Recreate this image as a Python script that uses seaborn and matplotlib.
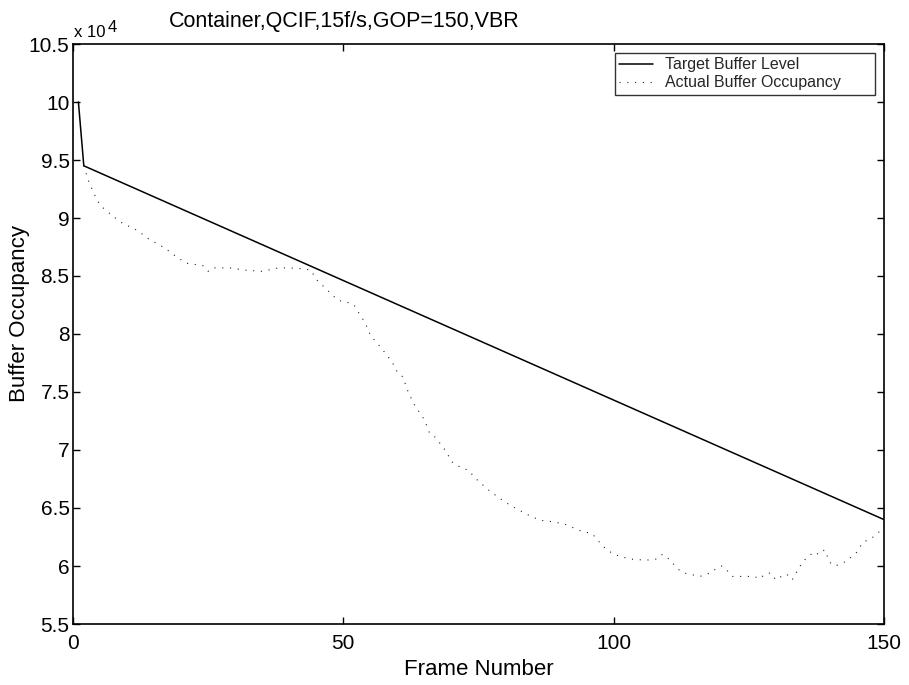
import matplotlib
matplotlib.use("Agg")
import matplotlib.pyplot as plt
import seaborn as sns
import pandas as pd
from matplotlib.ticker import FuncFormatter, MultipleLocator

# Target buffer level (bits) at key frames
target_frames = [1, 2, 150]
target_level = [100000, 94500, 64000]

# Actual buffer occupancy (bits) per frame
actual_frames = [2, 3, 4, 5, 7, 9, 12, 14, 17, 19, 21, 24, 25, 26, 29, 32, 35, 38, 40,
                 43, 44, 45, 47, 49, 51, 52, 53, 54, 55, 57, 59, 60, 61, 62, 63, 65, 66,
                 67, 69, 70, 72, 73, 75, 77, 79, 81, 83, 85, 87, 89, 91, 93, 94, 96, 98,
                 100, 103, 106, 108, 109, 110, 111, 112, 113, 114, 116, 117, 118, 119,
                 120, 121, 122, 124, 126, 127, 128, 129, 130, 131, 132, 133, 134, 135,
                 137, 138, 139, 140, 141, 143, 145, 146, 148, 149, 150]
actual_level = [94500, 93000, 92000, 91100, 90300, 89600, 88900, 88200, 87400, 86700,
                86100, 85900, 85400, 85700, 85700, 85500, 85400, 85700, 85700, 85600,
                85500, 84700, 83800, 82900, 82700, 82500, 81700, 81000, 79900, 78800,
                77600, 76700, 76300, 75000, 74000, 72600, 71400, 71100, 69900, 69000,
                68400, 68300, 67300, 66500, 65800, 65200, 64700, 64200, 63900, 63800,
                63600, 63200, 63000, 62800, 61700, 61000, 60600, 60500, 60600, 61000,
                60700, 60200, 59700, 59400, 59300, 59100, 59300, 59400, 59800, 60000,
                59600, 59100, 59100, 59100, 58900, 59300, 59400, 58800, 59100, 59300,
                58800, 59600, 60400, 61200, 61000, 61400, 60300, 60000, 60400, 61200,
                62000, 62500, 62900, 63400]

title_text = "Container,QCIF,15f/s,GOP=150,VBR"
x_label = "Frame Number"
y_label = "Buffer Occupancy"
series_names = ["Target Buffer Level", "Actual Buffer Occupancy"]

sns.set_theme(style="ticks")
plt.rcParams["font.family"] = ["Liberation Sans", "DejaVu Sans"]

fig = plt.figure(figsize=(9.09, 6.85), dpi=100)
W, H = 909, 685
ax = fig.add_axes([73 / W, 1 - 624 / H, (884 - 73) / W, (624 - 44) / H])

target_df = pd.DataFrame({"frame": target_frames, "level": target_level})
actual_df = pd.DataFrame({"frame": actual_frames, "level": actual_level})

sns.lineplot(data=target_df, x="frame", y="level", ax=ax, color="black",
             linewidth=1.1, label=series_names[0])
sns.lineplot(data=actual_df, x="frame", y="level", ax=ax, color="#222222",
             linewidth=0.8, linestyle=(0, (1, 6)), label=series_names[1])

ax.set_xlim(0, 150)
ax.set_ylim(55000, 105000)
ax.xaxis.set_major_locator(MultipleLocator(50))
ax.yaxis.set_major_locator(MultipleLocator(5000))
ax.yaxis.set_major_formatter(FuncFormatter(lambda v, p: f"{v / 1e4:g}"))

ax.tick_params(direction="in", length=5, width=1, top=True, right=True,
               labelsize=15, colors="black")
ax.tick_params(axis="x", pad=7.5)
ax.tick_params(axis="y", pad=2.5)
for s in ax.spines.values():
    s.set_linewidth(1.2)
    s.set_color("black")

ax.set_xlabel(x_label, fontsize=16, color="black", va="top")
ax.set_ylabel(y_label, fontsize=16, color="black")
ax.xaxis.set_label_coords(0.5, -(659 - 624) / 580)
ax.yaxis.set_label_coords((30 - 73) / 811, 0.536)

fig.text(169 / W, 1 - 27 / H, title_text, fontsize=15.5, ha="left",
         va="baseline", color="black")
# axis multiplier in the top-left corner
fig.text(74 / W, 1 - 37 / H, "x 10", fontsize=12, ha="left",
         va="baseline", color="black")
fig.text(108 / W, 1 - 32 / H, "4", fontsize=12, ha="left",
         va="baseline", color="black")

leg_left, leg_right, leg_top = 615, 875, 52.7
leg = ax.legend(loc="upper left",
                bbox_to_anchor=((leg_left - 73) / 811, 0,
                                (leg_right - leg_left) / 811, 1 - (leg_top - 44) / 580),
                mode="expand", borderaxespad=0, fontsize=11.5, handlelength=2.1,
                frameon=True, fancybox=False, shadow=False, borderpad=0.28,
                labelspacing=0.19, handletextpad=0.75)
leg.get_frame().set_edgecolor("black")
leg.get_frame().set_linewidth(1.0)

fig.savefig("out.png", dpi=100)
